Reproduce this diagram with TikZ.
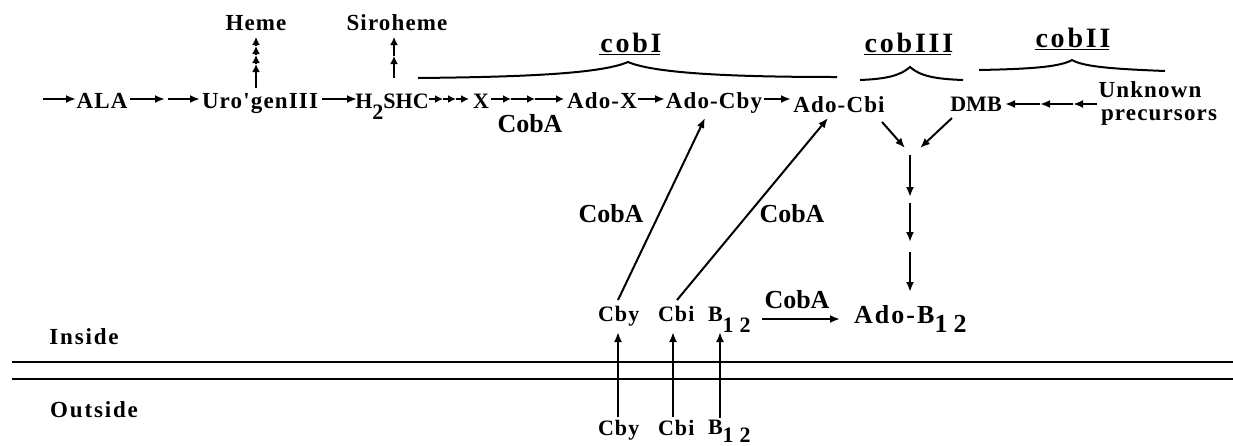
\documentclass[tikz,border=0pt]{standalone}
\usepackage{fontspec}
\setmainfont{Liberation Serif}
\newfontfamily\spfont[LetterSpace=5]{Liberation Serif}
\newfontfamily\spmfont[LetterSpace=8]{Liberation Serif}
\newfontfamily\spwfont[LetterSpace=10]{Liberation Serif}
\usetikzlibrary{arrows.meta}
\newcommand{\sbdown}[2][11pt]{\raisebox{-#1}{#2}}
\begin{document}
\begin{tikzpicture}[x=1pt,y=-1pt, line width=2pt,
  arr/.style={-{Latex[length=10pt,width=8pt]}},
  sarr/.style={-{Latex[length=8pt,width=8pt]}},
  txt/.style={inner sep=0pt, anchor=base, font=\spfont\bfseries\fontsize{23}{26}\selectfont},
  ptxt/.style={inner sep=0pt, anchor=base, font=\bfseries\fontsize{22}{26}\selectfont},
  sidetxt/.style={inner sep=0pt, anchor=base, font=\spmfont\bfseries\fontsize{23}{26}\selectfont},
  smalltxt/.style={inner sep=0pt, anchor=base west, font=\spfont\bfseries\fontsize{22}{26}\selectfont},
  bigtxt/.style={inner sep=0pt, anchor=base west, font=\spmfont\bfseries\fontsize{26}{30}\selectfont},
  cobalab/.style={inner sep=0pt, anchor=base, font=\bfseries\fontsize{26}{30}\selectfont},
  genelab/.style={inner sep=0pt, anchor=base, font=\spwfont\bfseries\fontsize{28}{32}\selectfont},
  brace/.style={line width=2pt},
  uline/.style={line width=1.8pt},
  membrane/.style={line width=2pt}]
\useasboundingbox (0,0) rectangle (1233,445);

% ---- main row ----
\node[txt] (ala) at (102,108) {ALA};
\node[txt] (uro) at (260,108) {Uro'genIII};
\node[ptxt] (shc) at (392,108) {H\sbdown{2}SHC};
\node[ptxt] (x) at (481,108) {X};
\node[txt] (adox) at (602,108) {Ado-X};
\node[txt] (adocby) at (714,108) {Ado-Cby};
\node[txt] (adocbi) at (839,112) {Ado-Cbi};
\node[ptxt] (dmb) at (976,111) {DMB};
\node[txt] (unk) at (1150,97) {Unknown};
\node[txt] (prec) at (1159,120) {precursors};

\node[txt] (heme) at (256,30) {Heme};
\node[txt] (siro) at (397,30) {Siroheme};

% gene labels
\node[genelab] (cobI) at (631,52) {cobI};
\node[genelab] (cobIII) at (909,52) {cobIII};
\node[genelab] (cobII) at (1073,47) {cobII};
\draw[uline] ([yshift=-2.5pt]cobI.base west) -- ([yshift=-2.5pt,xshift=-3pt]cobI.base east);
\draw[uline] ([yshift=-2.5pt]cobIII.base west) -- ([yshift=-2.5pt,xshift=-3pt]cobIII.base east);
\draw[uline] ([yshift=-2.5pt]cobII.base west) -- ([yshift=-2.5pt,xshift=-3pt]cobII.base east);

% braces
\draw[brace] (418,78) .. controls (520,77) and (600,74) .. (628,62) .. controls (656,74) and (740,77) .. (837,77);
\draw[brace] (860,80) .. controls (885,79) and (900,76) .. (910,67) .. controls (920,76) and (935,79) .. (963,80);
\draw[brace] (979,70) .. controls (1030,69) and (1060,67) .. (1072,60) .. controls (1084,67) and (1115,69) .. (1165,71);

% CobA labels
\node[cobalab] (cobaX) at (530,132) {CobA};
\node[cobalab] (cobaL) at (611,222) {CobA};
\node[cobalab] (cobaR) at (792,222) {CobA};
\node[cobalab] (cobaB) at (797,308) {CobA};

% inside row
\node[smalltxt] (cbyin) at (597,321) {Cby};
\node[smalltxt] (cbiin) at (657,321) {Cbi};
\node[smalltxt] (b12in) at (707,321) {B\sbdown{1\hspace{6pt}2}};
\node[bigtxt] (adob12) at (853,323) {Ado-B\sbdown[9pt]{1\hspace{6pt}2}};

% outside row
\node[smalltxt] (cbyout) at (597,435) {Cby};
\node[smalltxt] (cbiout) at (657,435) {Cbi};
\node[smalltxt] (b12out) at (707,434) {B\sbdown[8pt]{1\hspace{6pt}2}};

\node[sidetxt] (inside) at (84,344) {Inside};
\node[sidetxt] (outside) at (94,417) {Outside};

% membrane
\coordinate (m1a) at (12,362); \coordinate (m1b) at (1233,362);
\coordinate (m2a) at (12,379); \coordinate (m2b) at (1233,379);
\draw[membrane] (m1a) -- (m1b);
\draw[membrane] (m2a) -- (m2b);

% ---- coordinates for connectors ----
\coordinate (a0) at (43,99);  \coordinate (a1) at (76,99);
\coordinate (a2) at (130,99); \coordinate (a3) at (165,99);
\coordinate (a4) at (168,99); \coordinate (a5) at (200,99);
\coordinate (a6) at (322,99); \coordinate (a7) at (357,99);
\coordinate (s0) at (429,99); \coordinate (s1) at (443,99); \coordinate (s2) at (456,99); \coordinate (s3) at (469,99);
\coordinate (x0) at (491,99); \coordinate (x1) at (511,99); \coordinate (x2) at (535,99); \coordinate (x3) at (564,99);
\coordinate (b0) at (638,99); \coordinate (b1) at (665,99);
\coordinate (c0) at (764,99); \coordinate (c1) at (791,99);

\draw[arr] (a0) -- (a1);
\draw[arr] (a2) -- (a3);
\draw[arr] (a4) -- (a5);
\draw[arr] (a6) -- (a7);
\draw[sarr] (s0) -- (s1); \draw[sarr] (s1) -- (s2); \draw[sarr] (s2) -- (s3);
\draw[sarr] (x0) -- (x1); \draw[sarr] (x1) -- (x2); \draw[sarr] (x2) -- (x3);
\draw[arr] (b0) -- (b1);
\draw[arr] (c0) -- (c1);

% heme / siroheme
\coordinate (h0) at (256,88); \coordinate (h1) at (256,64); \coordinate (h2) at (256,55);
\coordinate (h3) at (256,46); \coordinate (h4) at (256,37);
\draw[sarr] (h0) -- (h1); \draw[sarr] (h1) -- (h2); \draw[sarr] (h2) -- (h3); \draw[sarr] (h3) -- (h4);
\coordinate (r0) at (394,78); \coordinate (r1) at (394,56); \coordinate (r2) at (394,37);
\draw[sarr] (r0) -- (r1); \draw[sarr] (r1) -- (r2);

% DMB from unknown precursors
\coordinate (d0) at (1097,104); \coordinate (d1) at (1073,104); \coordinate (d2) at (1040,104); \coordinate (d3) at (1005,104);
\draw[arr] (d0) -- (d1); \draw[arr] (d1) -- (d2); \draw[arr] (d2) -- (d3);

% convergence to Ado-B12
\coordinate (v0) at (882,122); \coordinate (v1) at (905,148);
\coordinate (w0) at (952,118); \coordinate (w1) at (920,148);
\draw[arr] (v0) -- (v1);
\draw[arr] (w0) -- (w1);
\coordinate (t0) at (910,155); \coordinate (t1) at (910,197);
\coordinate (t2) at (910,203); \coordinate (t3) at (910,242);
\coordinate (t4) at (910,252); \coordinate (t5) at (910,292);
\draw[arr] (t0) -- (t1); \draw[arr] (t2) -- (t3); \draw[arr] (t4) -- (t5);

% diagonal CobA arrows
\coordinate (g0) at (618,300); \coordinate (g1) at (705,118);
\coordinate (k0) at (677,300); \coordinate (k1) at (828,118);
\draw[arr] (g0) -- (g1);
\draw[arr] (k0) -- (k1);

% B12 -> Ado-B12
\coordinate (e0) at (762,319); \coordinate (e1) at (840,319);
\draw[arr] (e0) -- (e1);

% uptake arrows
\coordinate (u0) at (618,417); \coordinate (u1) at (618,332);
\coordinate (u2) at (673,417); \coordinate (u3) at (673,332);
\coordinate (u4) at (720,418); \coordinate (u5) at (720,332);
\draw[arr] (u0) -- (u1);
\draw[arr] (u2) -- (u3);
\draw[arr] (u4) -- (u5);
\end{tikzpicture}
\end{document}
